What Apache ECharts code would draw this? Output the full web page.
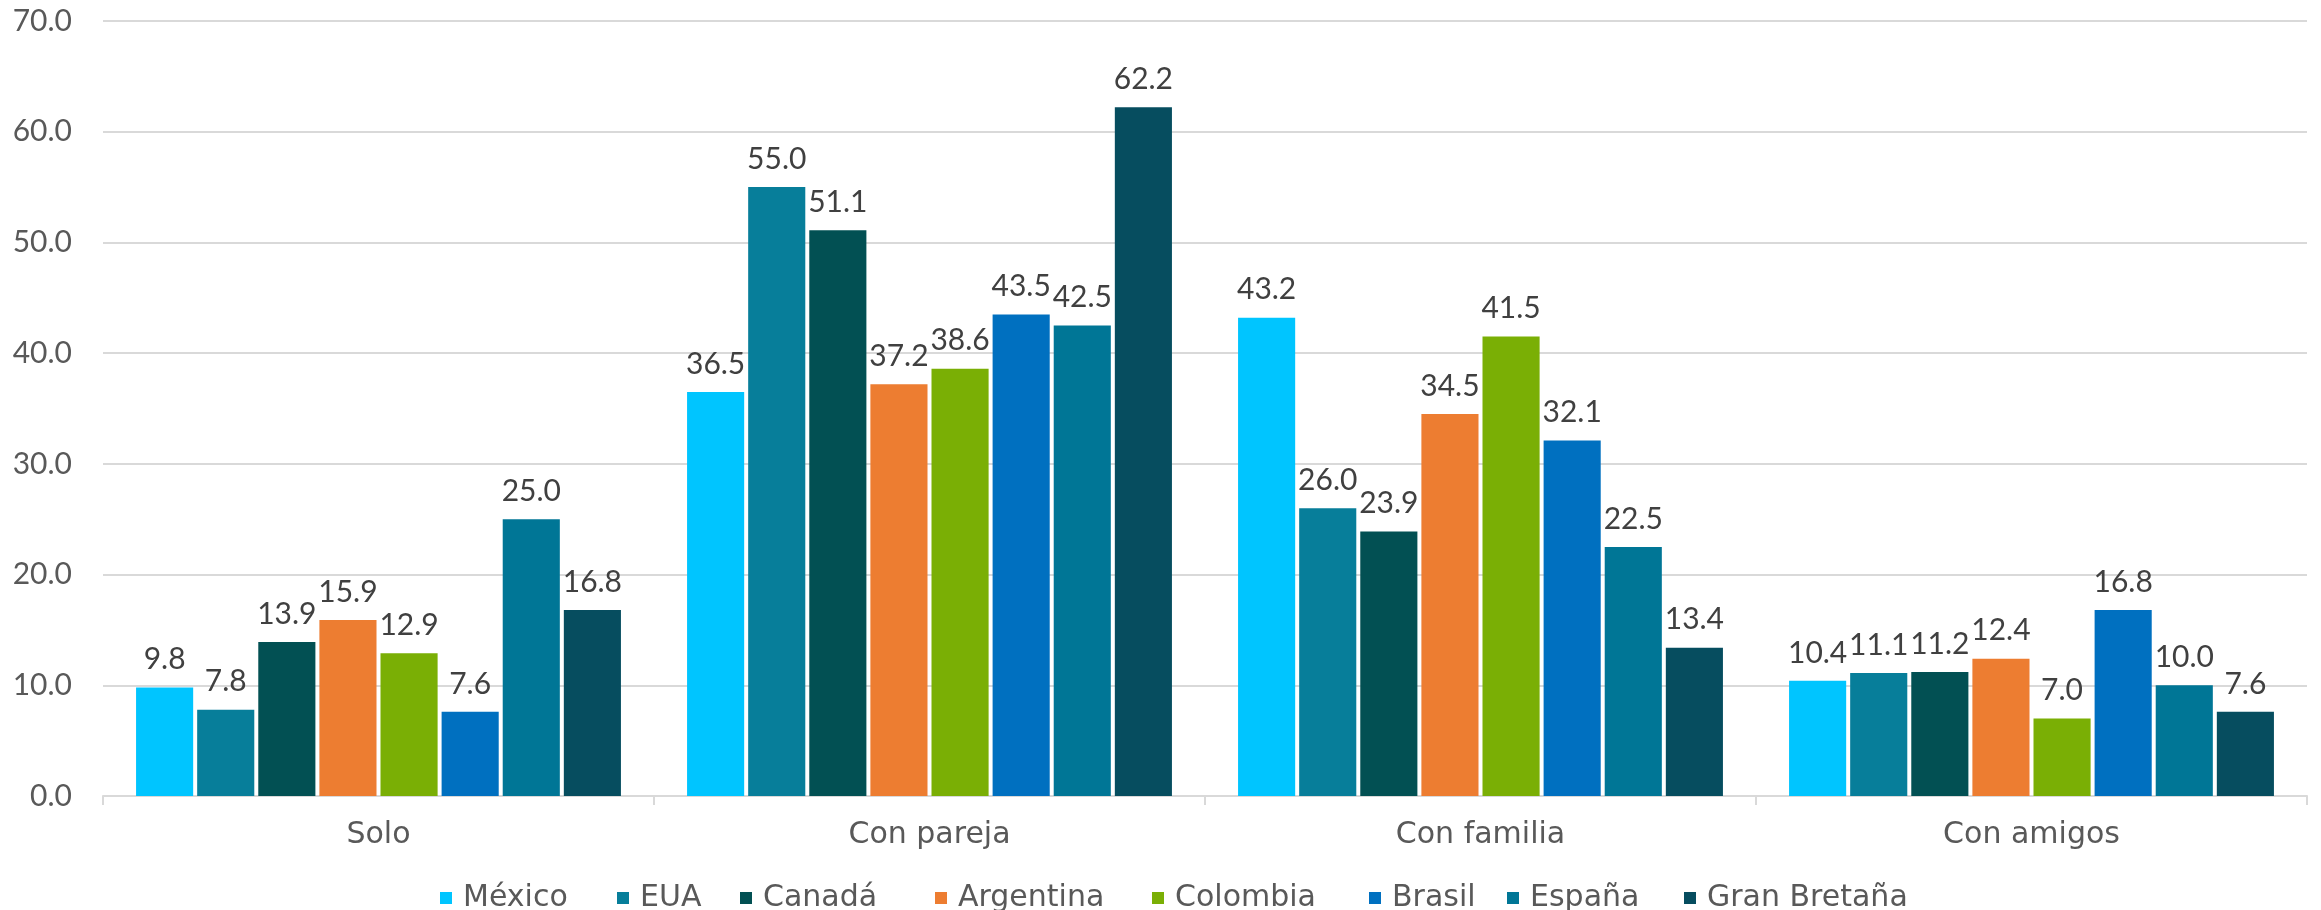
<!DOCTYPE html>
<html>
<head>
<meta charset="utf-8">
<script src="https://cdn.jsdelivr.net/npm/echarts@6/dist/echarts.min.js"></script>
<style>
html,body{margin:0;padding:0;background:#fff;}
#chart{width:2321px;height:910px;}
</style>
</head>
<body>
<div id="chart"></div>
<script>
const categories = ['Solo', 'Con pareja', 'Con familia', 'Con amigos'];
const seriesNames = ['México', 'EUA', 'Canadá', 'Argentina', 'Colombia', 'Brasil', 'España', 'Gran Bretaña'];
const mexico = [9.8, 36.5, 43.2, 10.4];
const eua = [7.8, 55.0, 26.0, 11.1];
const canada = [13.9, 51.1, 23.9, 11.2];
const argentina = [15.9, 37.2, 34.5, 12.4];
const colombia = [12.9, 38.6, 41.5, 7.0];
const brasil = [7.6, 43.5, 32.1, 16.8];
const espana = [25.0, 42.5, 22.5, 10.0];
const granBretana = [16.8, 62.2, 13.4, 7.6];
const colors = ['#00C5FF', '#077E9A', '#025053', '#ED7D31', '#7AAF05', '#0070C0', '#007696', '#064D5F'];

const allData = [mexico, eua, canada, argentina, colombia, brasil, espana, granBretana];
const NUM_FONT = 'Lato';
const WORD_FONT = 'DejaVu Sans';
const AXIS_TXT = '#595959';
const LABEL_TXT = '#404040';

// layout: left edge of each legend marker (pixels)
const legendLeft = [435, 612, 735, 930, 1147, 1364, 1502, 1679];

const chart = echarts.init(document.getElementById('chart'));
chart.setOption({
  animation: false,
  color: colors,
  textStyle: { fontFamily: NUM_FONT },
  grid: { left: 103, right: 14, top: 21, bottom: 114 },
  legend: seriesNames.map((name, i) => ({
    data: [name],
    left: legendLeft[i],
    top: 878,
    itemWidth: 12,
    itemHeight: 12,
    icon: 'rect',
    selectedMode: false,
    textStyle: { fontFamily: WORD_FONT, fontSize: 30, color: AXIS_TXT, padding: [0, 0, 0, 6] }
  })),
  xAxis: {
    type: 'category',
    data: categories,
    axisLine: { lineStyle: { color: '#D9D9D9', width: 2 } },
    axisTick: { show: true, length: 9, lineStyle: { color: '#D9D9D9', width: 2 } },
    axisLabel: { fontFamily: WORD_FONT, fontSize: 30, color: AXIS_TXT, margin: 24 }
  },
  yAxis: {
    type: 'value',
    min: 0,
    max: 70,
    interval: 10,
    axisLine: { show: false },
    axisTick: { show: false },
    splitLine: { lineStyle: { color: '#D9D9D9', width: 2 } },
    axisLabel: {
      fontFamily: NUM_FONT, fontSize: 30, color: AXIS_TXT, margin: 31,
      formatter: v => v.toFixed(1)
    }
  },
  series: seriesNames.map((name, i) => ({
    name: name,
    type: 'bar',
    data: allData[i],
    barGap: '7%',
    barCategoryGap: '12%',
    itemStyle: { color: colors[i] },
    label: {
      show: true,
      position: 'top',
      distance: 13,
      fontFamily: NUM_FONT,
      fontSize: 30,
      color: LABEL_TXT,
      formatter: p => p.value.toFixed(1)
    }
  }))
});
</script>
</body>
</html>
